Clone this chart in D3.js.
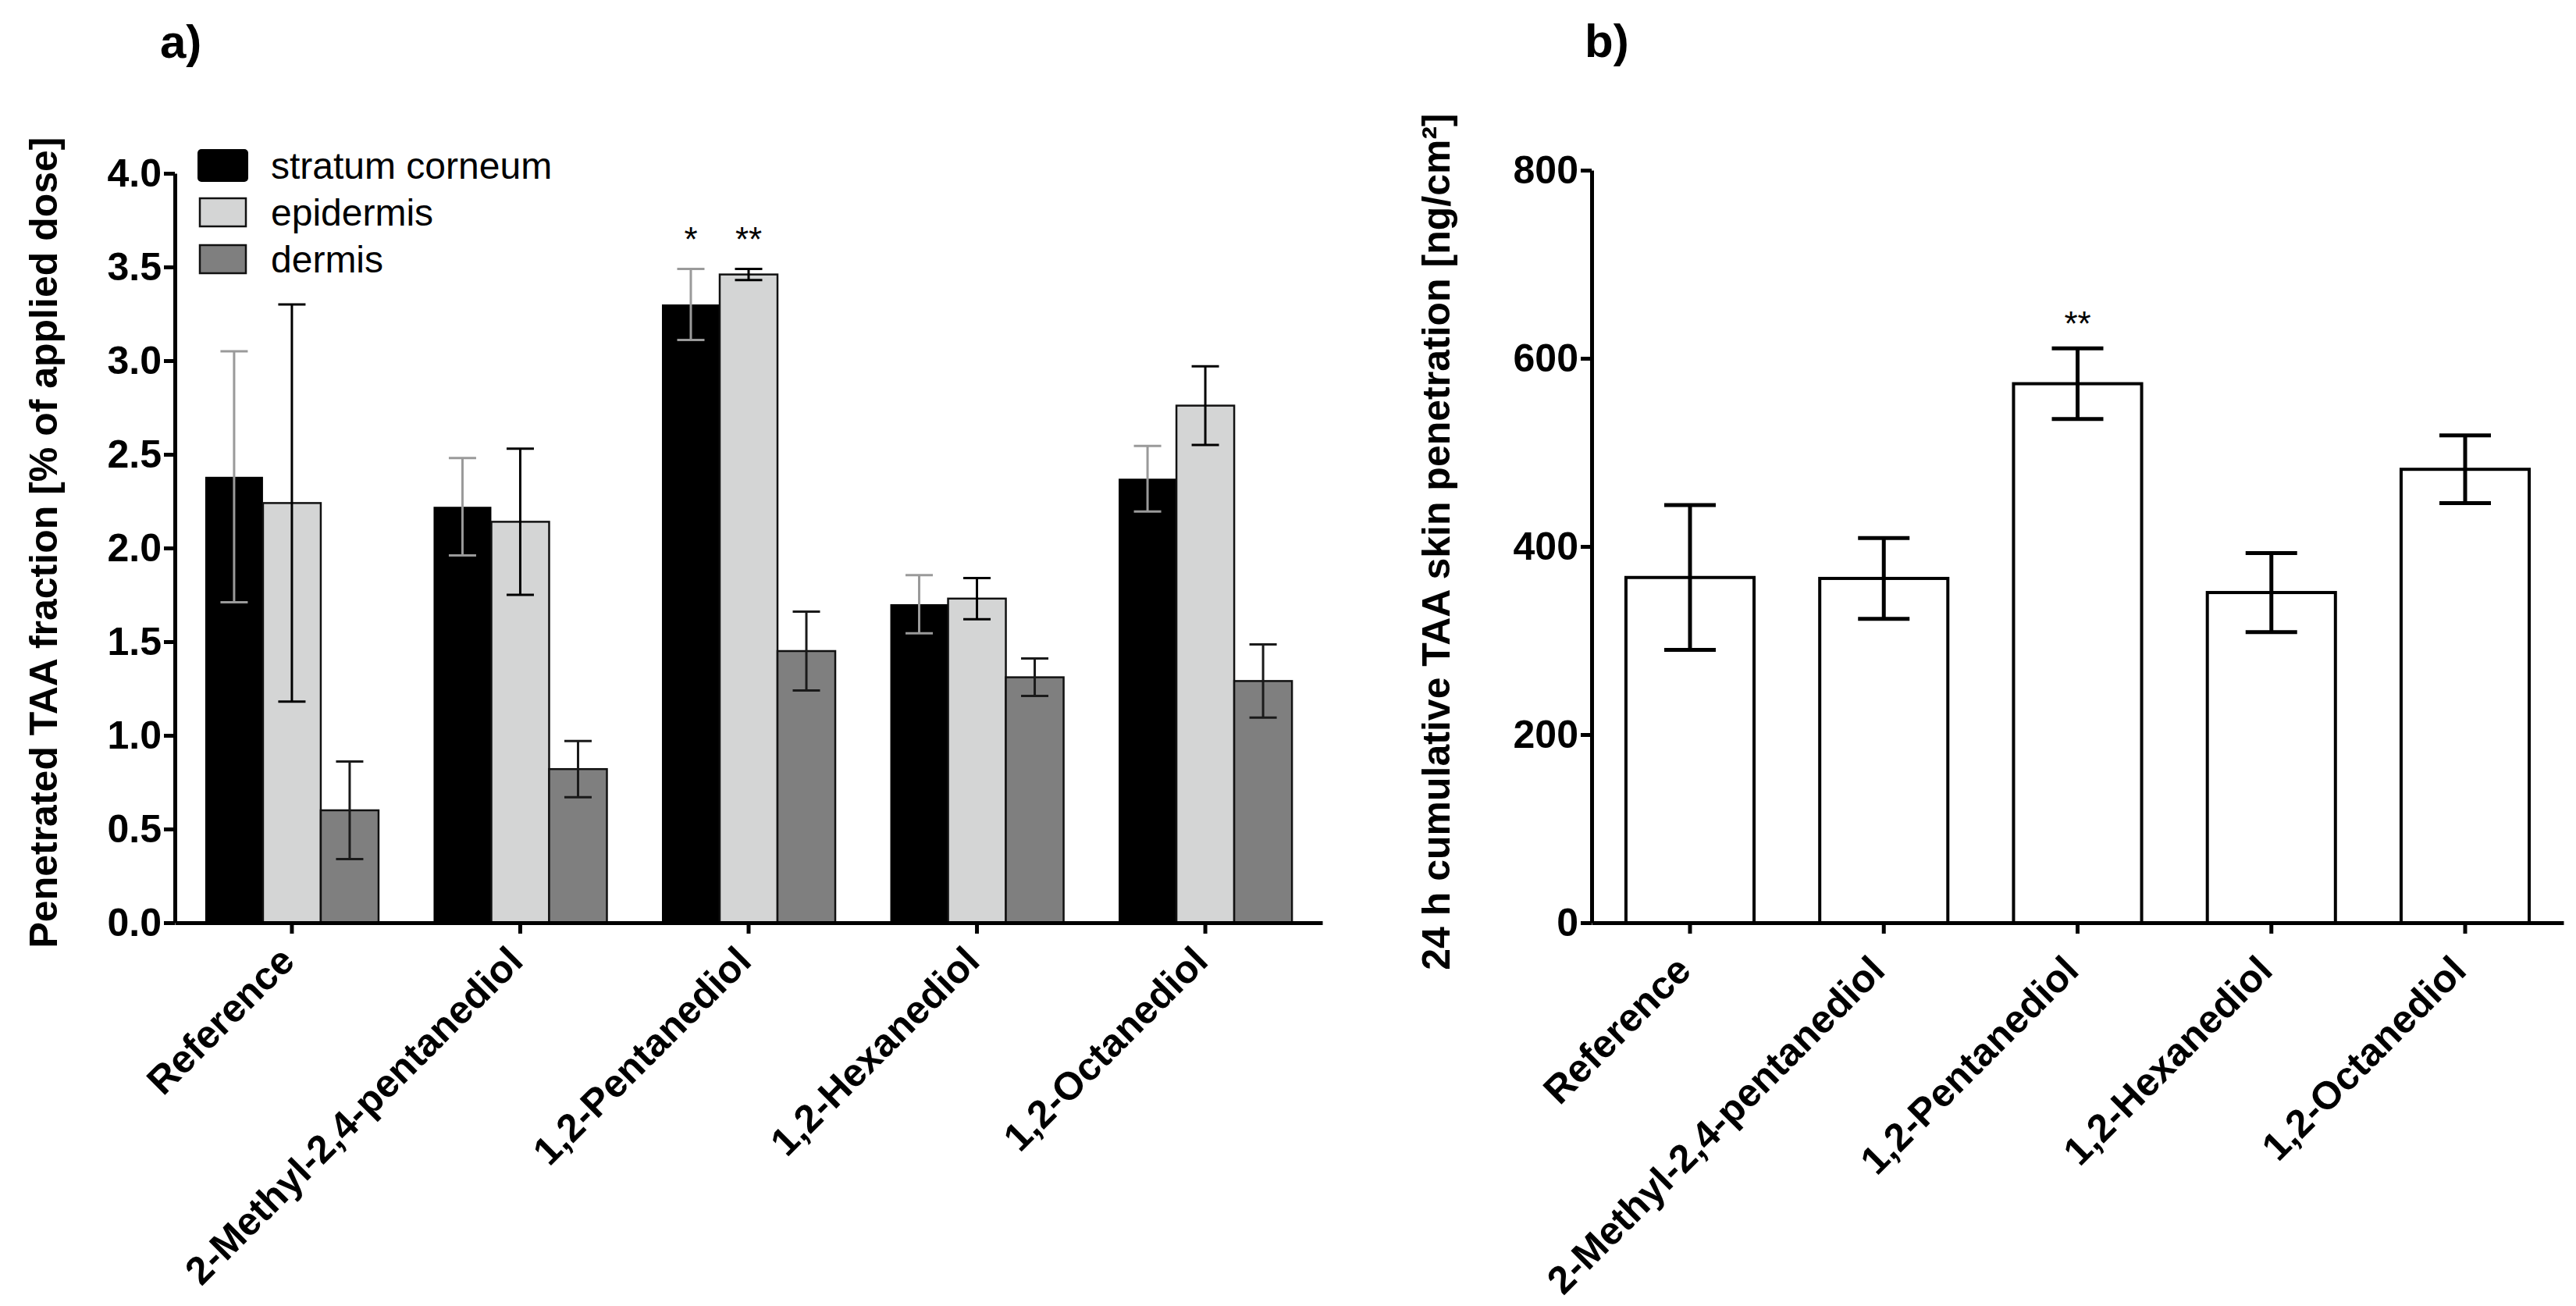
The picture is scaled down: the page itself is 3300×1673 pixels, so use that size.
<!DOCTYPE html>
<html>
<head>
<meta charset="utf-8">
<script src="https://cdn.jsdelivr.net/npm/d3@7"></script>
<style>
  body { margin: 0; background: #fff; }
  text { font-family: "Liberation Sans", Arial, sans-serif; }
</style>
</head>
<body>
<svg id="chart" width="3300" height="1673"></svg>
<script>
// categories and series
const categories = ['Reference', '2-Methyl-2,4-pentanediol', '1,2-Pentanediol', '1,2-Hexanediol', '1,2-Octanediol'];
const series = ['stratum corneum', 'epidermis', 'dermis'];

// panel a: penetrated TAA fraction, mean and SD per layer
const scMean = [2.38, 2.22, 3.30, 1.70, 2.37];
const scSd = [0.67, 0.26, 0.19, 0.155, 0.175];
const epiMean = [2.24, 2.14, 3.46, 1.73, 2.76];
const epiSd = [1.06, 0.39, 0.03, 0.11, 0.21];
const dermMean = [0.60, 0.82, 1.45, 1.31, 1.29];
const dermSd = [0.26, 0.15, 0.21, 0.10, 0.195];

// panel b: 24 h cumulative skin penetration
const cumMean = [367, 366, 573, 351, 482];
const cumSd = [77, 43, 37.5, 42, 36];

const yTicksA = [0, 0.5, 1.0, 1.5, 2.0, 2.5, 3.0, 3.5, 4.0];
const yTicksB = [0, 200, 400, 600, 800];

// significance marks
const sigA = [
  { cat: '1,2-Pentanediol', layer: 'stratum corneum', label: '*' },
  { cat: '1,2-Pentanediol', layer: 'epidermis', label: '**' }
];
const sigB = [{ cat: '1,2-Pentanediol', label: '**' }];

const svg = d3.select('#chart');
const fontBold = '50px';

function styleAxis(g) {
  g.select('.domain').attr('stroke', '#000').attr('stroke-width', 5);
  g.selectAll('.tick line').attr('stroke', '#000').attr('stroke-width', 5);
  g.selectAll('.tick text')
    .attr('fill', '#000')
    .style('font-size', fontBold)
    .style('font-weight', 'bold');
}

// ---------- panel a ----------
const rowsA = categories.map((c, i) => ({
  cat: c,
  values: [
    { layer: series[0], mean: scMean[i], sd: scSd[i] },
    { layer: series[1], mean: epiMean[i], sd: epiSd[i] },
    { layer: series[2], mean: dermMean[i], sd: dermSd[i] }
  ]
}));

const xA = d3.scaleBand().domain(categories).range([224, 1694]).paddingInner(0.241).paddingOuter(0.133);
const xA1 = d3.scaleBand().domain(series).range([0, xA.bandwidth()]);
const yA = d3.scaleLinear().domain([0, 4]).range([1182, 222]);

const fillA = d3.scaleOrdinal().domain(series).range(['#000000', '#d4d5d5', '#7f7f7f']);
const errA = d3.scaleOrdinal().domain(series).range(['#9a9a9a', '#000000', '#1a1a1a']);

const gA = svg.append('g');

const groups = gA.selectAll('g.grp')
  .data(rowsA)
  .enter()
  .append('g')
  .attr('class', 'grp')
  .attr('transform', d => `translate(${xA(d.cat)},0)`);

groups.selectAll('rect')
  .data(d => d.values)
  .enter()
  .append('rect')
  .attr('x', d => xA1(d.layer))
  .attr('y', d => yA(d.mean))
  .attr('width', xA1.bandwidth())
  .attr('height', d => yA(0) - yA(d.mean))
  .attr('fill', d => fillA(d.layer))
  .attr('stroke', d => d.layer === series[0] ? 'none' : '#111')
  .attr('stroke-width', 2.5);

const capA = 35;
groups.each(function (row) {
  const g = d3.select(this);
  row.values.forEach(v => {
    const cx = xA1(v.layer) + xA1.bandwidth() / 2;
    const e = g.append('g').attr('stroke', errA(v.layer)).attr('stroke-width', 3);
    e.append('line').attr('x1', cx).attr('x2', cx).attr('y1', yA(v.mean + v.sd)).attr('y2', yA(v.mean - v.sd));
    e.append('line').attr('x1', cx - capA / 2).attr('x2', cx + capA / 2).attr('y1', yA(v.mean + v.sd)).attr('y2', yA(v.mean + v.sd));
    e.append('line').attr('x1', cx - capA / 2).attr('x2', cx + capA / 2).attr('y1', yA(v.mean - v.sd)).attr('y2', yA(v.mean - v.sd));
  });
});

sigA.forEach(s => {
  const row = rowsA.find(r => r.cat === s.cat);
  const v = row.values.find(d => d.layer === s.layer);
  gA.append('text')
    .attr('x', xA(s.cat) + xA1(s.layer) + xA1.bandwidth() / 2)
    .attr('y', yA(v.mean + v.sd) - 22)
    .attr('text-anchor', 'middle')
    .style('font-size', '44px')
    .text(s.label);
});

gA.append('g')
  .attr('transform', 'translate(224,0)')
  .call(d3.axisLeft(yA).tickValues(yTicksA).tickFormat(d3.format('.1f')).tickSize(14).tickSizeOuter(0).tickPadding(3))
  .call(styleAxis);

const xAxA = gA.append('g')
  .attr('transform', 'translate(0,1182)')
  .call(d3.axisBottom(xA).tickSize(14).tickSizeOuter(0))
  .call(styleAxis);
xAxA.selectAll('.tick text')
  .attr('text-anchor', 'end')
  .attr('dy', null)
  .attr('y', 0)
  .attr('transform', 'translate(6,52) rotate(-45)');

gA.append('text')
  .attr('transform', 'translate(55,695) rotate(-90)')
  .attr('dy', '0.35em')
  .attr('text-anchor', 'middle')
  .style('font-size', fontBold)
  .style('font-weight', 'bold')
  .text('Penetrated TAA fraction [% of applied dose]');

gA.append('text')
  .attr('x', 205).attr('y', 74)
  .style('font-size', '60px')
  .style('font-weight', 'bold')
  .text('a)');

// legend
const legend = gA.append('g');
const legendRows = legend.selectAll('g')
  .data(series)
  .enter()
  .append('g')
  .attr('transform', (d, i) => `translate(0,${212 + i * 60})`);
legendRows.append('rect')
  .attr('x', d => d === series[0] ? 253 : 256)
  .attr('y', d => d === series[0] ? -21 : -18)
  .attr('width', d => d === series[0] ? 65 : 59)
  .attr('height', d => d === series[0] ? 42 : 36)
  .attr('rx', d => d === series[0] ? 5 : 0)
  .attr('fill', d => fillA(d))
  .attr('stroke', d => d === series[0] ? 'none' : '#111')
  .attr('stroke-width', 2.5);
legendRows.append('text')
  .attr('x', 347)
  .attr('dy', '0.36em')
  .style('font-size', '48px')
  .text(d => d);

// ---------- panel b ----------
const xB = d3.scaleBand().domain(categories).range([2039, 3284]).paddingInner(0.339).paddingOuter(0.177);
const yB = d3.scaleLinear().domain([0, 800]).range([1182, 218]);
const rowsB = categories.map((c, i) => ({ cat: c, mean: cumMean[i], sd: cumSd[i] }));

const gB = svg.append('g');

gB.selectAll('rect')
  .data(rowsB)
  .enter()
  .append('rect')
  .attr('x', d => xB(d.cat))
  .attr('y', d => yB(d.mean))
  .attr('width', xB.bandwidth())
  .attr('height', d => yB(0) - yB(d.mean))
  .attr('fill', '#fff')
  .attr('stroke', '#000')
  .attr('stroke-width', 4);

const capB = 66;
rowsB.forEach(d => {
  const cx = xB(d.cat) + xB.bandwidth() / 2;
  const e = gB.append('g').attr('stroke', '#000').attr('stroke-width', 5);
  e.append('line').attr('x1', cx).attr('x2', cx).attr('y1', yB(d.mean + d.sd)).attr('y2', yB(d.mean - d.sd));
  e.append('line').attr('x1', cx - capB / 2).attr('x2', cx + capB / 2).attr('y1', yB(d.mean + d.sd)).attr('y2', yB(d.mean + d.sd));
  e.append('line').attr('x1', cx - capB / 2).attr('x2', cx + capB / 2).attr('y1', yB(d.mean - d.sd)).attr('y2', yB(d.mean - d.sd));
});

sigB.forEach(s => {
  const d = rowsB.find(r => r.cat === s.cat);
  gB.append('text')
    .attr('x', xB(s.cat) + xB.bandwidth() / 2)
    .attr('y', yB(d.mean + d.sd) - 16)
    .attr('text-anchor', 'middle')
    .style('font-size', '44px')
    .text(s.label);
});

gB.append('g')
  .attr('transform', 'translate(2039,0)')
  .call(d3.axisLeft(yB).tickValues(yTicksB).tickSize(14).tickSizeOuter(0).tickPadding(3))
  .call(styleAxis);

const xAxB = gB.append('g')
  .attr('transform', 'translate(0,1182)')
  .call(d3.axisBottom(xB).tickSize(14).tickSizeOuter(0))
  .call(styleAxis);
xAxB.selectAll('.tick text')
  .attr('text-anchor', 'end')
  .attr('dy', null)
  .attr('y', 0)
  .attr('transform', 'translate(4,64) rotate(-45)');

gB.append('text')
  .attr('transform', 'translate(1839,694) rotate(-90)')
  .attr('dy', '0.35em')
  .attr('text-anchor', 'middle')
  .style('font-size', fontBold)
  .style('font-weight', 'bold')
  .text('24 h cumulative TAA skin penetration [ng/cm²]');

gB.append('text')
  .attr('x', 2030).attr('y', 73)
  .style('font-size', '60px')
  .style('font-weight', 'bold')
  .text('b)');
</script>
</body>
</html>
